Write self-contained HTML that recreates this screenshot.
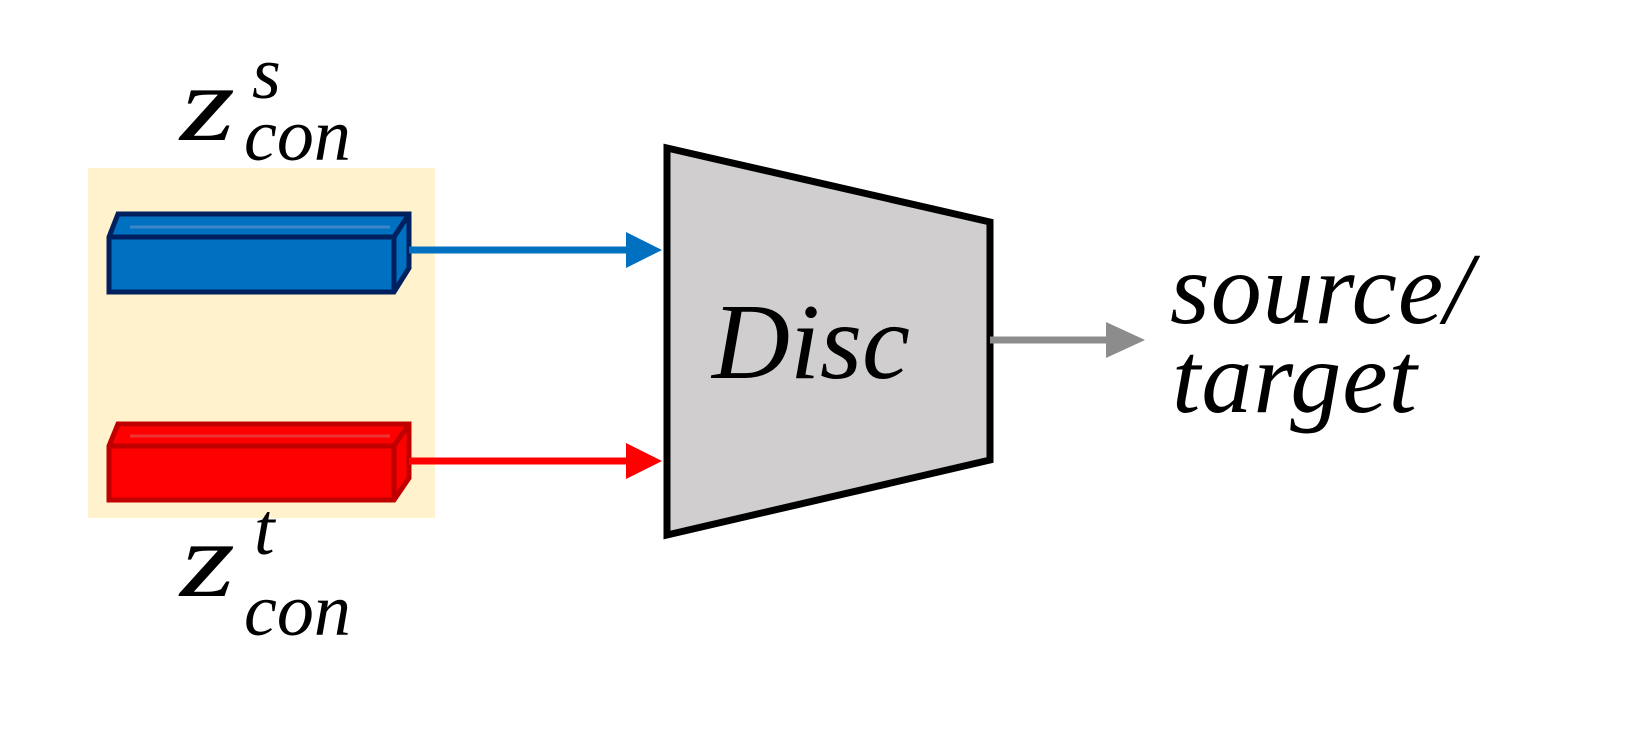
<!DOCTYPE html>
<html><head><style>html,body{margin:0;padding:0;background:#fff}</style></head>
<body>
<svg width="1626" height="738" viewBox="0 0 1626 738" xmlns="http://www.w3.org/2000/svg" font-family="Liberation Serif, serif" font-style="italic">
<rect x="88" y="168" width="347" height="350" fill="#fff2cc"/>
<!-- blue bar -->
<polygon points="109,237 118,214 409,214 409,268 394,292 109,292" fill="#0070c0" stroke="#002060" stroke-width="5"/>
<polyline points="109,237 394,237 409,214" fill="none" stroke="#002060" stroke-width="5"/>
<line x1="394" y1="237" x2="394" y2="292" stroke="#002060" stroke-width="5"/>
<line x1="130" y1="227" x2="390" y2="227" stroke="#3d87c8" stroke-width="3"/>
<!-- red bar -->
<polygon points="109,446 118,424 409,424 409,478 394,500 109,500" fill="#ff0000" stroke="#c00000" stroke-width="5"/>
<polyline points="109,446 394,446 409,424" fill="none" stroke="#c00000" stroke-width="5"/>
<line x1="394" y1="446" x2="394" y2="500" stroke="#c00000" stroke-width="5"/>
<line x1="130" y1="436" x2="390" y2="436" stroke="#ee3333" stroke-width="3"/>
<!-- arrows -->
<line x1="409" y1="250" x2="630" y2="250" stroke="#0070c0" stroke-width="7"/>
<polygon points="626,232 662,250 626,268" fill="#0070c0"/>
<line x1="409" y1="461" x2="630" y2="461" stroke="#ff0000" stroke-width="7"/>
<polygon points="626,443 662,461 626,479" fill="#ff0000"/>
<!-- trapezoid -->
<polygon points="667,148 990,222 990,460 667,535" fill="#d0cece" stroke="#000" stroke-width="7" stroke-linejoin="miter"/>
<line x1="990" y1="340" x2="1110" y2="340" stroke="#8c8c8c" stroke-width="7"/>
<polygon points="1106,322 1145,340 1106,358" fill="#8c8c8c"/>
<!-- text -->
<text x="180" y="140" font-size="108" textLength="55" lengthAdjust="spacingAndGlyphs">z</text>
<text x="252" y="98" font-size="74">s</text>
<text x="244" y="160" font-size="74">con</text>
<text x="180" y="596" font-size="108" textLength="55" lengthAdjust="spacingAndGlyphs">z</text>
<text x="254" y="554" font-size="74">t</text>
<text x="244" y="635" font-size="74">con</text>
<text x="712" y="378" font-size="108">Disc</text>
<text x="1170" y="323" font-size="102" letter-spacing="1">source/</text>
<text x="1172" y="412" font-size="102" letter-spacing="1">target</text>
</svg>
</body></html>
